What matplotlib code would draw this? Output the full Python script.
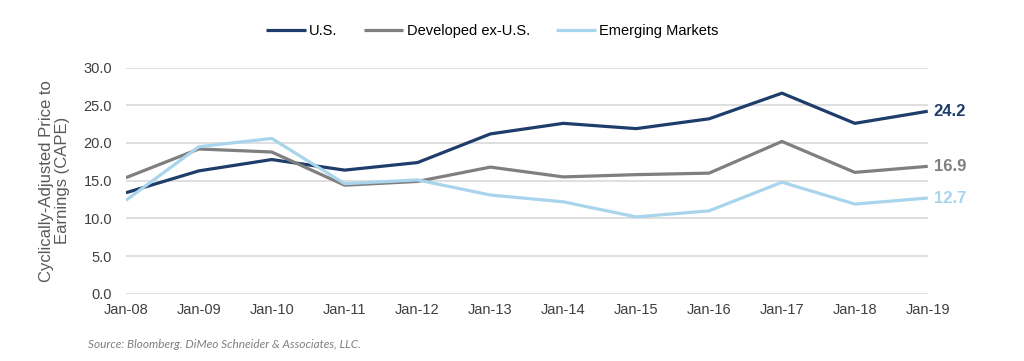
import matplotlib.pyplot as plt

# --- dados ---
dates = ['Jan-08', 'Jan-09', 'Jan-10', 'Jan-11', 'Jan-12', 'Jan-13',
         'Jan-14', 'Jan-15', 'Jan-16', 'Jan-17', 'Jan-18', 'Jan-19']
us = [13.4, 16.3, 17.8, 16.4, 17.4, 21.2, 22.6, 21.9, 23.2, 26.6, 22.6, 24.2]
developed = [15.4, 19.2, 18.8, 14.4, 14.9, 16.8, 15.5, 15.8, 16.0, 20.2, 16.1, 16.9]
emerging = [12.4, 19.5, 20.6, 14.6, 15.1, 13.1, 12.2, 10.2, 11.0, 14.8, 11.9, 12.7]
yticks = [0, 5, 10, 15, 20, 25, 30]

series = [
    ('U.S.', us, '#1f3d6b'),
    ('Developed ex-U.S.', developed, '#7f7f7f'),
    ('Emerging Markets', emerging, '#a8d4ec'),
]

plt.rcParams['font.family'] = ['Liberation Sans', 'DejaVu Sans']

fig = plt.figure(figsize=(10.24, 3.61), dpi=100)
ax = fig.add_axes([0.123, 0.186, 0.783, 0.627])

x = range(len(dates))
for label, values, color in series:
    ax.plot(x, values, color=color, linewidth=2.3, label=label, solid_capstyle='butt')
    # valor final ao lado da linha
    ax.text(len(dates) - 1 + 0.08, values[-1], f'{values[-1]:.1f}', color=color,
            fontsize=12, fontweight='bold', va='center', ha='left')

ax.set_xlim(0, len(dates) - 1)
ax.set_ylim(0, 30)
ax.set_xticks(list(x))
ax.set_xticklabels(dates)
ax.set_yticks(yticks)
ax.set_yticklabels([f'{v:.1f}' for v in yticks])
ax.tick_params(length=0, labelsize=10.5, labelcolor='#404040')
ax.tick_params(axis='y', pad=10)
ax.tick_params(axis='x', pad=6.5)
ax.grid(axis='y', color='#d9d9d9', linewidth=1.2)
ax.set_axisbelow(True)
for s in ax.spines.values():
    s.set_visible(False)

ax.set_ylabel('Cyclically-Adjusted Price to\nEarnings (CAPE)', fontsize=12,
              color='#595959', linespacing=1.1)
ax.yaxis.set_label_coords(-0.07, 0.5)

fig.legend(loc='center', bbox_to_anchor=(0.481, 0.914), ncol=3, frameon=False,
           fontsize=10.5, handlelength=2.7, columnspacing=1.8, handletextpad=0.25)

fig.text(0.086, 0.047, 'Source: Bloomberg. DiMeo Schneider & Associates, LLC.',
         fontsize=8.5, style='italic', color='#7f7f7f', va='center',
         family=['Lato', 'DejaVu Sans'])

fig.savefig('out.png', dpi=100)
